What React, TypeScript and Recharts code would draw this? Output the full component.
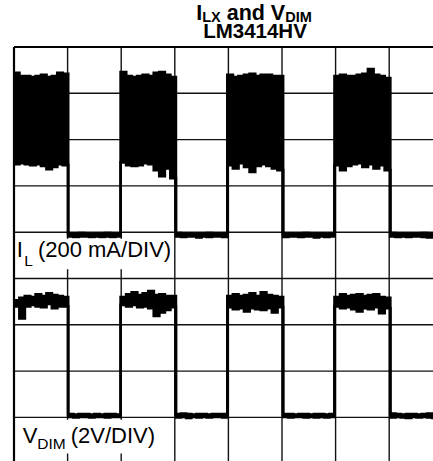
import React from 'react';
import {
  ComposedChart,
  Area,
  XAxis,
  YAxis,
  CartesianGrid,
  ReferenceArea,
  ReferenceLine,
} from 'recharts';

// Time in scope divisions; each segment starts at a level transition.
const segmentStarts = [0, 1.01, 1.99, 3.02, 3.98, 5.02, 5.98, 7.02];
const timeEnd = 8.0;
const xTicks = [0, 1, 2, 3, 4, 5, 6, 7, 8];
const yTicks = [0, 1, 2, 3, 4, 5, 6, 7, 8, 9];

// Inductor current I_L (divisions), upper and lower envelope per segment
const ilTop = [
  [8.44, 8.37, 8.37, 8.35, 8.37, 8.4, 8.35, 8.37, 8.44, 8.42],
  [4.97, 4.97, 4.98, 4.97, 4.96, 4.97, 4.97, 4.98, 4.97, 4.97],
  [8.46, 8.37, 8.35, 8.37, 8.4, 8.37, 8.44, 8.46, 8.4, 8.35],
  [4.98, 4.97, 4.97, 4.96, 4.97, 4.97, 4.98, 4.97, 4.97, 4.97],
  [8.4, 8.35, 8.37, 8.4, 8.42, 8.37, 8.4, 8.4, 8.37, 8.37],
  [4.97, 4.97, 4.96, 4.97, 4.98, 4.97, 4.97, 4.97, 4.96, 4.97],
  [8.37, 8.4, 8.37, 8.37, 8.4, 8.42, 8.52, 8.4, 8.37, 8.33],
  [4.98, 4.97, 4.97, 4.96, 4.97, 4.97, 4.98, 4.97, 4.97, 4.97],
];
const ilBottom = [
  [6.47, 6.49, 6.47, 6.45, 6.47, 6.43, 6.36, 6.41, 6.47, 6.45],
  [4.91, 4.9, 4.91, 4.91, 4.9, 4.91, 4.9, 4.91, 4.9, 4.91],
  [6.51, 6.45, 6.43, 6.45, 6.49, 6.47, 6.34, 6.21, 6.38, 6.17],
  [4.91, 4.9, 4.91, 4.91, 4.89, 4.91, 4.9, 4.91, 4.91, 4.9],
  [6.45, 6.38, 6.49, 6.41, 6.3, 6.43, 6.47, 6.43, 6.38, 6.34],
  [4.9, 4.91, 4.91, 4.9, 4.91, 4.91, 4.89, 4.91, 4.9, 4.91],
  [6.45, 6.34, 6.43, 6.47, 6.49, 6.41, 6.47, 6.38, 6.45, 6.34],
  [4.91, 4.9, 4.91, 4.9, 4.91, 4.91, 4.9, 4.89, 4.91, 4.9],
];

// Dimming voltage V_DIM (divisions), upper and lower envelope per segment
const vdimTop = [
  [3.53, 3.58, 3.62, 3.6, 3.66, 3.62, 3.68, 3.64, 3.62, 3.6],
  [1.07, 1.06, 1.07, 1.07, 1.06, 1.07, 1.06, 1.07, 1.07, 1.06],
  [3.6, 3.66, 3.7, 3.64, 3.68, 3.73, 3.64, 3.66, 3.62, 3.62],
  [1.07, 1.08, 1.07, 1.06, 1.07, 1.07, 1.06, 1.07, 1.07, 1.07],
  [3.62, 3.66, 3.62, 3.64, 3.68, 3.62, 3.7, 3.64, 3.62, 3.6],
  [1.07, 1.07, 1.06, 1.07, 1.07, 1.06, 1.07, 1.07, 1.06, 1.07],
  [3.6, 3.66, 3.62, 3.64, 3.66, 3.62, 3.64, 3.66, 3.6, 3.58],
  [1.08, 1.07, 1.06, 1.07, 1.07, 1.06, 1.07, 1.08, 1.07, 1.07],
];
const vdimBottom = [
  [3.4, 3.14, 3.4, 3.43, 3.4, 3.38, 3.45, 3.36, 3.4, 3.4],
  [1.01, 1.0, 1.01, 1.01, 1.0, 1.01, 1.01, 1.0, 1.01, 1.01],
  [3.43, 3.4, 3.43, 3.38, 3.4, 3.36, 3.19, 3.27, 3.32, 3.38],
  [1.0, 1.01, 0.99, 1.01, 1.0, 1.01, 1.0, 1.01, 1.01, 1.0],
  [3.38, 3.34, 3.36, 3.29, 3.36, 3.34, 3.32, 3.36, 3.27, 3.38],
  [1.01, 1.0, 1.01, 1.01, 1.0, 1.01, 1.0, 1.01, 1.0, 1.01],
  [3.4, 3.36, 3.38, 3.34, 3.29, 3.36, 3.34, 3.38, 3.25, 3.36],
  [1.0, 1.01, 1.0, 0.99, 1.01, 1.0, 1.01, 1.0, 0.99, 1.01],
];

type Row = { t: number; il: [number, number]; vdim: [number, number] };

function buildRows(): Row[] {
  const rows: Row[] = [];
  segmentStarts.forEach((start, s) => {
    const end = s + 1 < segmentStarts.length ? segmentStarts[s + 1] : timeEnd;
    const n = ilTop[s].length;
    for (let i = 0; i < n; i++) {
      rows.push({
        t: +(start + (i * (end - start)) / n).toFixed(4),
        il: [ilBottom[s][i], ilTop[s][i]],
        vdim: [vdimBottom[s][i], vdimTop[s][i]],
      });
    }
  });
  const last = rows[rows.length - 1];
  rows.push({ t: timeEnd, il: last.il, vdim: last.vdim });
  return rows;
}

const data = buildRows();
const FONT = '"Liberation Sans", Arial, Helvetica, sans-serif';

const IlLabel = (props: any) => {
  const { x, y } = props.viewBox;
  return (
    <text x={x + 0.5} y={y + 18.5} fontFamily={FONT} fontSize={22} fill="#000">
      I
      <tspan dx={1.5} dy={9} fontSize={15.5}>L</tspan>
      <tspan dx={5} dy={-9}>(200 mA/DIV)</tspan>
    </text>
  );
};

const VdimLabel = (props: any) => {
  const { x, y } = props.viewBox;
  return (
    <text x={x + 6.5} y={y + 23.3} fontFamily={FONT} fontSize={22} fill="#000">
      V
      <tspan dy={6} fontSize={15.5}>DIM</tspan>
      <tspan dx={5} dy={-6}>(2V/DIV)</tspan>
    </text>
  );
};

export default function App() {
  return (
    <div
      style={{
        position: 'absolute',
        left: 0,
        top: 0,
        width: 433,
        height: 461,
        overflow: 'hidden',
        background: '#fff',
      }}
    >
      <ComposedChart
        width={470}
        height={480}
        data={data}
        margin={{ top: 47, left: 14, right: 27.2, bottom: 16.3 }}
      >
        <XAxis dataKey="t" type="number" domain={[0, 8]} ticks={xTicks} hide allowDataOverflow />
        <YAxis type="number" domain={[0, 9]} ticks={yTicks} hide allowDataOverflow />
        <CartesianGrid stroke="#111" strokeWidth={1.4} />
        <ReferenceLine x={0} stroke="#000" strokeWidth={2.2} />
        <ReferenceLine y={9} stroke="#000" strokeWidth={2.2} />
        <Area
          dataKey="il"
          type="stepAfter"
          stroke="#000"
          strokeWidth={2.7}
          fill="#000"
          fillOpacity={1}
          dot={false}
          activeDot={false}
          isAnimationActive={false}
        />
        <Area
          dataKey="vdim"
          type="stepAfter"
          stroke="#000"
          strokeWidth={2.7}
          fill="#000"
          fillOpacity={1}
          dot={false}
          activeDot={false}
          isAnimationActive={false}
        />
        <ReferenceArea
          x1={0.04}
          x2={2.95}
          y1={4.2}
          y2={4.86}
          fill="#fff"
          fillOpacity={1}
          stroke="none"
          label={IlLabel}
        />
        <ReferenceArea
          x1={0.04}
          x2={2.8}
          y1={0.22}
          y2={0.95}
          fill="#fff"
          fillOpacity={1}
          stroke="none"
          label={VdimLabel}
        />
      </ComposedChart>
      <svg
        width={433}
        height={46}
        style={{ position: 'absolute', left: 0, top: 0 }}
      >
        <text textAnchor="middle" fontFamily={FONT} fontWeight="bold" fontSize={21.5} fill="#000">
          <tspan x={254} y={19.5}>I</tspan>
          <tspan dy={2} fontSize={14.5}>LX</tspan>
          <tspan dy={-2}> and V</tspan>
          <tspan dy={2} fontSize={14.5}>DIM</tspan>
          <tspan x={255} y={38} fontSize={20.5}>LM3414HV</tspan>
        </text>
      </svg>
    </div>
  );
}
